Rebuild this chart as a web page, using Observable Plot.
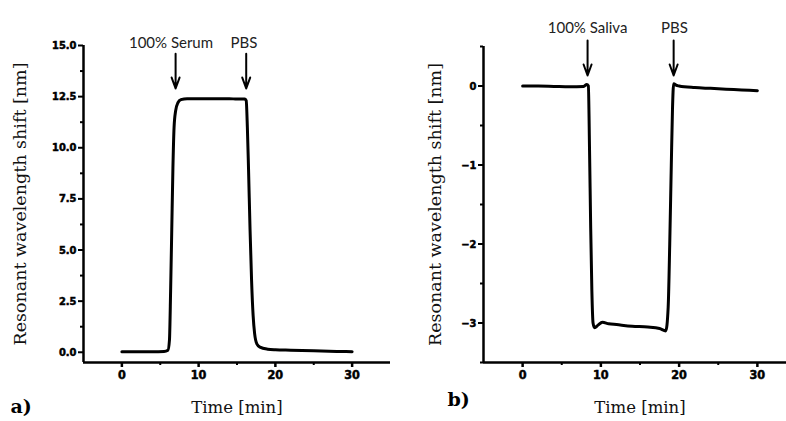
<!DOCTYPE html>
<html>
<head>
<meta charset="utf-8">
<script src="https://cdn.jsdelivr.net/npm/d3@7"></script>
<script src="https://cdn.jsdelivr.net/npm/@observablehq/plot@0.6"></script>
<style>
  html, body { margin: 0; padding: 0; background: #fff; overflow: hidden; width: 786px; height: 421px; }
  #wrap { position: relative; width: 786px; height: 421px; overflow: hidden; }
  #left, #right { position: absolute; top: 0; }
  #left { left: 0; width: 393px; }
  #right { left: 393px; width: 403px; }
  svg { max-width: none !important; }
  text.tk { font-family: 'DejaVu Sans Condensed', 'DejaVu Sans', 'Liberation Sans', sans-serif !important; font-weight: bold !important; }
</style>
</head>
<body>
<div id="wrap"><div id="left"></div><div id="right"></div></div>
<script>
// ---- Data: panel a) serum ----
const serumTime  = [0, 2, 4, 5.5, 6.0, 6.2, 6.35, 6.5, 6.65, 6.8, 7.0, 7.3, 7.7, 8.5, 10, 12, 14, 15, 16, 16.2, 16.35, 16.5, 16.7, 16.9, 17.1, 17.3, 17.6, 18, 19, 20, 22, 25, 28, 30];
const serumShift = [0.03, 0.03, 0.03, 0.04, 0.1, 0.6, 3, 6, 9, 11, 11.8, 12.2, 12.35, 12.4, 12.4, 12.4, 12.4, 12.38, 12.38, 12.3, 11, 9, 6, 3.5, 1.8, 0.9, 0.4, 0.25, 0.15, 0.12, 0.1, 0.07, 0.04, 0.03];

// ---- Data: panel b) saliva ----
const salivaTime  = [0, 2, 4, 6, 7.8, 8.2, 8.4, 8.55, 8.7, 8.85, 9.0, 9.2, 9.6, 10.2, 11, 12, 14, 16, 17.5, 18.3, 18.6, 18.8, 19.0, 19.15, 19.3, 19.6, 20, 22, 24, 26, 28, 30];
const salivaShift = [0, 0, -0.005, -0.01, -0.005, 0.02, 0.0, -0.8, -1.8, -2.6, -3.0, -3.06, -3.03, -2.99, -3.01, -3.02, -3.04, -3.05, -3.07, -3.1, -2.8, -2.0, -1.0, -0.3, 0.03, 0.01, 0, -0.02, -0.03, -0.04, -0.05, -0.06];

// ---- Annotations (injection times) ----
const serumEvents  = ["100% Serum", "PBS"];
const serumEventT  = [7.0, 16.2];
const serumLabelT  = [6.4, 15.9];
const salivaEvents = ["100% Saliva", "PBS"];
const salivaEventT = [8.3, 19.3];
const salivaLabelT = [8.3, 19.4];

// ---- Tick labels ----
const serumYTicks  = [0, 2.5, 5, 7.5, 10, 12.5, 15];
const serumYMinor  = [1.25, 3.75, 6.25, 8.75, 11.25, 13.75];
const salivaYTicks = [0, -1, -2, -3];
const salivaYMinor = [0.5, -0.5, -1.5, -2.5, -3.5];
const timeTicks    = [0, 10, 20, 30];
const timeMinor    = [5, 15, 25];

const yLabel = "Resonant wavelength shift [nm]";
const xLabel = "Time [min]";

const tickFont = "'DejaVu Sans Condensed', 'DejaVu Sans', sans-serif";
const serif = "'DejaVu Serif', 'Century Schoolbook', serif";
const annoFont = "Lato, 'Open Sans', sans-serif";

const serumData = serumTime.map((t, i) => ({t, v: serumShift[i]}));
const salivaData = salivaTime.map((t, i) => ({t, v: salivaShift[i]}));

function panel({data, yDomain, yTicks, yMinor, yFmt, events, eventT, labelT, arrowY1, arrowY2, labelDy,
                width, marginLeft, marginRight, marginTop, yLabelDx, panelTag, tagDx, tagDy}) {
  const ann = events.map((name, i) => ({name, t: eventT[i], lt: labelT[i]}));
  return Plot.plot({
    width, height: 421,
    marginLeft, marginRight, marginTop, marginBottom: 59,
    style: {background: "transparent", color: "#000", fontFamily: tickFont, maxWidth: "none"},
    x: {domain: [-5, 35], axis: null},
    y: {domain: yDomain, axis: null},
    marks: [
      // y axis ticks
      Plot.axisY({ticks: yTicks, tickFormat: yFmt, tickSize: 5, tickPadding: 2, strokeWidth: 2,
                  fontSize: 11, fontWeight: "bold", fontFamily: tickFont, label: null, anchor: "left"}),
      Plot.axisY({ticks: yMinor, tickFormat: () => "", tickSize: 3, strokeWidth: 2, label: null, anchor: "left"}),
      // x axis ticks
      Plot.axisX({ticks: timeTicks, tickFormat: d3.format("d"), tickSize: 5, tickPadding: 3, strokeWidth: 2.5,
                  fontSize: 12.5, fontWeight: "bold", fontFamily: tickFont, label: null, anchor: "bottom"}),
      Plot.axisX({ticks: timeMinor, tickFormat: () => "", tickSize: 3, strokeWidth: 2, label: null, anchor: "bottom"}),
      // axis lines
      Plot.ruleX([-5], {strokeWidth: 2.5}),
      Plot.ruleY([yDomain[0]], {strokeWidth: 2.5}),
      // data line
      Plot.line(data, {x: "t", y: "v", stroke: "#000", strokeWidth: 3, curve: "monotone-x"}),
      // annotations
      Plot.arrow(ann, {x: "t", y1: () => arrowY1, y2: () => arrowY2, stroke: "#000", strokeWidth: 2,
                       headLength: 9, headAngle: 40}),
      Plot.text(ann, {x: "lt", text: "name", frameAnchor: "top", dy: labelDy, fontFamily: annoFont,
                      fontSize: 15, fill: "#222"}),
      // axis titles
      Plot.text([yLabel], {frameAnchor: "left", textAnchor: "middle", rotate: -90, dx: yLabelDx,
                           fontFamily: serif, fontSize: 17.5, fill: "#111"}),
      Plot.text([xLabel], {frameAnchor: "bottom", textAnchor: "middle", dy: 50, fontFamily: serif, fontSize: 16.5, fill: "#111"}),
      Plot.text([panelTag], {frameAnchor: "bottom-left", textAnchor: "start", dx: tagDx, dy: tagDy,
                             fontFamily: serif, fontSize: 19, fontWeight: "bold", fill: "#000"})
    ]
  });
}

const leftSvg = panel({
  data: serumData, yDomain: [-0.5, 15], yTicks: serumYTicks, yMinor: serumYMinor, yFmt: d3.format(".1f"),
  events: serumEvents, eventT: serumEventT, labelT: serumLabelT, arrowY1: 14.6, arrowY2: 12.9, labelDy: -8,
  width: 393, marginLeft: 83, marginRight: 3, marginTop: 45, yLabelDx: -63,
  panelTag: "a)", tagDx: -73, tagDy: 50
});
const rightSvg = panel({
  data: salivaData, yDomain: [-3.5, 0.5], yTicks: salivaYTicks, yMinor: salivaYMinor, yFmt: d3.format("d"),
  events: salivaEvents, eventT: salivaEventT, labelT: salivaLabelT, arrowY1: 0.576, arrowY2: 0.133, labelDy: -24,
  width: 403, marginLeft: 90, marginRight: 0, marginTop: 46, yLabelDx: -48,
  panelTag: "b)", tagDx: -36, tagDy: 43
});
document.getElementById("left").appendChild(leftSvg);
document.getElementById("right").appendChild(rightSvg);

// mark numeric tick labels so the stylesheet makes them heavy, like the original
document.querySelectorAll("svg text").forEach(el => {
  if (/^[\u2212-]?\d+(\.\d)?$/.test(el.textContent.trim())) {
    el.classList.add("tk");
    el.setAttribute("font-weight", "bold");
    el.setAttribute("stroke", "#000");
    el.setAttribute("stroke-width", "0.5");
  }
});
</script>
</body>
</html>
